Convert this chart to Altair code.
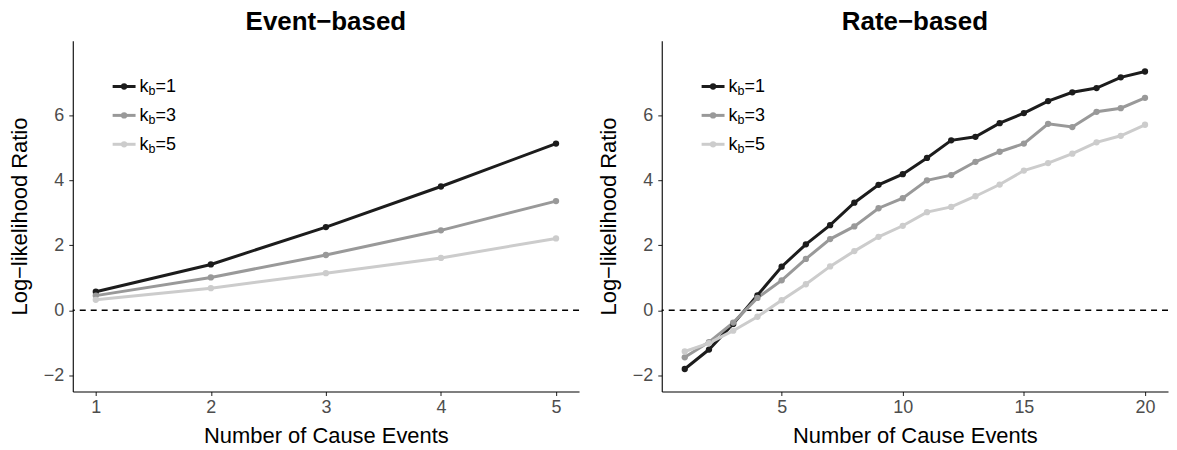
import altair as alt
import pandas as pd

# ---- data ----
series = ["k1", "k3", "k5"]
series_suffix = ["=1", "=3", "=5"]
colors = ["#1c1c1c", "#999999", "#cccccc"]

event_x = [1, 2, 3, 4, 5]
event_k1 = [0.57, 1.41, 2.56, 3.81, 5.13]
event_k3 = [0.45, 1.01, 1.70, 2.46, 3.36]
event_k5 = [0.32, 0.68, 1.14, 1.61, 2.21]

rate_x = list(range(1, 21))
rate_k1 = [-1.81, -1.21, -0.42, 0.46, 1.34, 2.03, 2.62, 3.31, 3.86, 4.19,
           4.69, 5.23, 5.34, 5.76, 6.07, 6.44, 6.71, 6.84, 7.17, 7.35]
rate_k3 = [-1.45, -0.98, -0.38, 0.38, 0.92, 1.58, 2.19, 2.58, 3.14, 3.45,
           4.00, 4.16, 4.57, 4.88, 5.13, 5.74, 5.64, 6.11, 6.22, 6.54]
rate_k5 = [-1.27, -1.01, -0.63, -0.20, 0.31, 0.80, 1.35, 1.82, 2.26, 2.60,
           3.02, 3.18, 3.51, 3.87, 4.30, 4.53, 4.82, 5.17, 5.37, 5.71]

y_ticks = [-2, 0, 2, 4, 6]
event_ticks = [1, 2, 3, 4, 5]
rate_ticks = [5, 10, 15, 20]

FONT = "Liberation Sans"
W, H = 508, 352


def long_df(xs, ys_list):
    rows = []
    for s, ys in zip(series, ys_list):
        for x, y in zip(xs, ys):
            rows.append({"x": x, "y": y, "series": s})
    return pd.DataFrame(rows)


def panel(df, title, xdomain, xticks):
    xenc = alt.X("x:Q", scale=alt.Scale(domain=xdomain, nice=False, zero=False),
                 axis=alt.Axis(values=xticks, title="Number of Cause Events", format="d"))
    yenc = alt.Y("y:Q", scale=alt.Scale(domain=[-2.5, 8.3], nice=False, zero=False),
                 axis=alt.Axis(values=y_ticks, title="Log\u2212likelihood Ratio", format="d"))
    cenc = alt.Color("series:N", scale=alt.Scale(domain=series, range=colors), legend=None)

    zero = alt.Chart(pd.DataFrame({"y": [0]})).mark_rule(
        color="black", strokeDash=[6, 5], strokeWidth=1.4
    ).encode(y=alt.Y("y:Q"))

    base = alt.Chart(df).encode(x=xenc, y=yenc, color=cenc)
    lines = base.mark_line(strokeWidth=3)
    pts = base.mark_point(filled=True, size=40, opacity=1)

    layers = [zero, lines, pts]

    # manual legend (k with subscript b)
    top, step = 46, 29
    for i, (s, suf, col) in enumerate(zip(series, series_suffix, colors)):
        yy = top + i * step
        one = pd.DataFrame({"s": [s]})
        layers.append(alt.Chart(one).mark_rule(color=col, strokeWidth=3).encode(
            x=alt.value(40), x2=alt.value(63), y=alt.value(yy)))
        layers.append(alt.Chart(one).mark_point(filled=True, size=40, opacity=1, color=col).encode(
            x=alt.value(51.5), y=alt.value(yy)))
        layers.append(alt.Chart(one).mark_text(text="k", font=FONT, fontSize=18, align="left",
                                               baseline="alphabetic", color="black").encode(
            x=alt.value(67), y=alt.value(yy + 6)))
        layers.append(alt.Chart(one).mark_text(text="b", font=FONT, fontSize=12.5, align="left",
                                               baseline="alphabetic", color="black").encode(
            x=alt.value(76), y=alt.value(yy + 9)))
        layers.append(alt.Chart(one).mark_text(text=suf, font=FONT, fontSize=18, align="left",
                                               baseline="alphabetic", color="black").encode(
            x=alt.value(83), y=alt.value(yy + 6)))

    return alt.layer(*layers).properties(
        width=W, height=H,
        title=alt.TitleParams(title, fontSize=26, fontWeight="bold", font=FONT,
                              anchor="middle", color="black", offset=6),
    )


left = panel(long_df(event_x, [event_k1, event_k3, event_k5]), "Event\u2212based", [0.8, 5.2], event_ticks)
right = panel(long_df(rate_x, [rate_k1, rate_k3, rate_k5]), "Rate\u2212based", [0.05, 20.95], rate_ticks)

chart = alt.hconcat(left, right, spacing=17).properties(
    padding={"left": 0, "top": 0, "right": 0, "bottom": 0}
).configure_view(stroke=None).configure_axis(
    grid=False,
    domainColor="black",
    domainWidth=1.1,
    tickColor="#333333",
    tickSize=4,
    tickWidth=1.1,
    labelColor="#4d4d4d",
    labelFont=FONT,
    labelFontSize=18,
    labelPadding=3,
    titleFont=FONT,
    titleFontSize=22,
    titleFontWeight="normal",
    titleColor="black",
    titlePadding=6,
).configure_axisX(titlePadding=9).configure_axisY(titlePadding=12, labelPadding=5)

chart.save("out.html", embed_options={"renderer": "svg", "actions": False})
